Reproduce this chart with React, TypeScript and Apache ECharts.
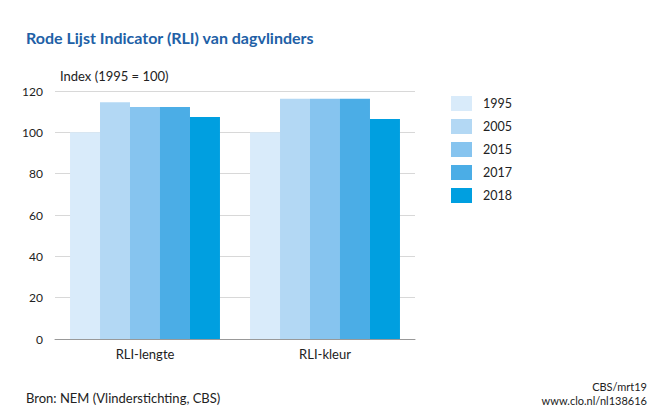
import React, { useEffect, useRef } from "react";
import * as echarts from "echarts";

const categories = ["RLI-lengte", "RLI-kleur"];
const seriesNames = ["1995", "2005", "2015", "2017", "2018"];
const v1995 = [100, 100];
const v2005 = [114.5, 116.2];
const v2015 = [112.2, 116.2];
const v2017 = [112.2, 116.2];
const v2018 = [107.4, 106.5];
const colors = ["#d9ebfa", "#b3d8f4", "#86c4ef", "#4badE6", "#009fe0"];
const yTicks = { min: 0, max: 120, interval: 20 };

export default function App() {
  const ref = useRef<HTMLDivElement>(null);
  useEffect(() => {
    const chart = echarts.init(ref.current!, null, { renderer: "svg" });
    const values = [v1995, v2005, v2015, v2017, v2018];
    const font = "Lato, 'Noto Sans', sans-serif";
    chart.setOption({
      animation: false,
      textStyle: { fontFamily: font },
      title: [
        {
          text: "Rode Lijst Indicator (RLI) van dagvlinders",
          left: 21,
          top: 24,
          textStyle: { fontSize: 16, fontWeight: "bold", color: "#2160a6", fontFamily: font },
        },
        {
          text: "Index (1995 = 100)",
          left: 55,
          top: 64,
          textStyle: { fontSize: 13, fontWeight: "normal", color: "#222", fontFamily: font },
        },
        {
          text: "Bron: NEM (Vlinderstichting, CBS)",
          left: 21,
          top: 386,
          textStyle: { fontSize: 13, fontWeight: "normal", color: "#222", fontFamily: font },
        },
        {
          text: "CBS/mrt19",
          right: 8,
          top: 376,
          textStyle: { fontSize: 11, fontWeight: "normal", color: "#222", fontFamily: font },
        },
        {
          text: "www.clo.nl/nl138616",
          right: 8,
          top: 390,
          textStyle: { fontSize: 11, fontWeight: "normal", color: "#222", fontFamily: font },
        },
      ],
      legend: {
        orient: "vertical",
        left: 446,
        top: 91,
        itemWidth: 21,
        itemHeight: 15,
        itemGap: 8,
        icon: "rect",
        data: seriesNames,
        textStyle: { fontSize: 12.5, color: "#222", fontFamily: font, padding: [0, 0, 0, 6] },
      },
      grid: { left: 55, right: 245, top: 91, bottom: 68, containLabel: false },
      xAxis: {
        type: "category",
        data: categories,
        axisLine: { lineStyle: { color: "#999", width: 1 } },
        axisTick: { show: false },
        axisLabel: { fontSize: 13, color: "#222", margin: 8, fontFamily: font },
      },
      yAxis: {
        type: "value",
        min: yTicks.min,
        max: yTicks.max,
        interval: yTicks.interval,
        axisLine: { show: false },
        axisTick: { show: false },
        axisLabel: { fontSize: 12, color: "#222", margin: 12, fontFamily: font },
        splitLine: { lineStyle: { color: "#d8d8d8", width: 1 } },
      },
      series: seriesNames.map((name, i) => ({
        name,
        type: "bar",
        data: values[i],
        barGap: "0%",
        barCategoryGap: "16.7%",
        itemStyle: { color: colors[i] },
      })),
    });
    return () => chart.dispose();
  }, []);
  return <div ref={ref} style={{ width: 660, height: 407, position: "absolute", left: 0, top: 0 }} />;
}
